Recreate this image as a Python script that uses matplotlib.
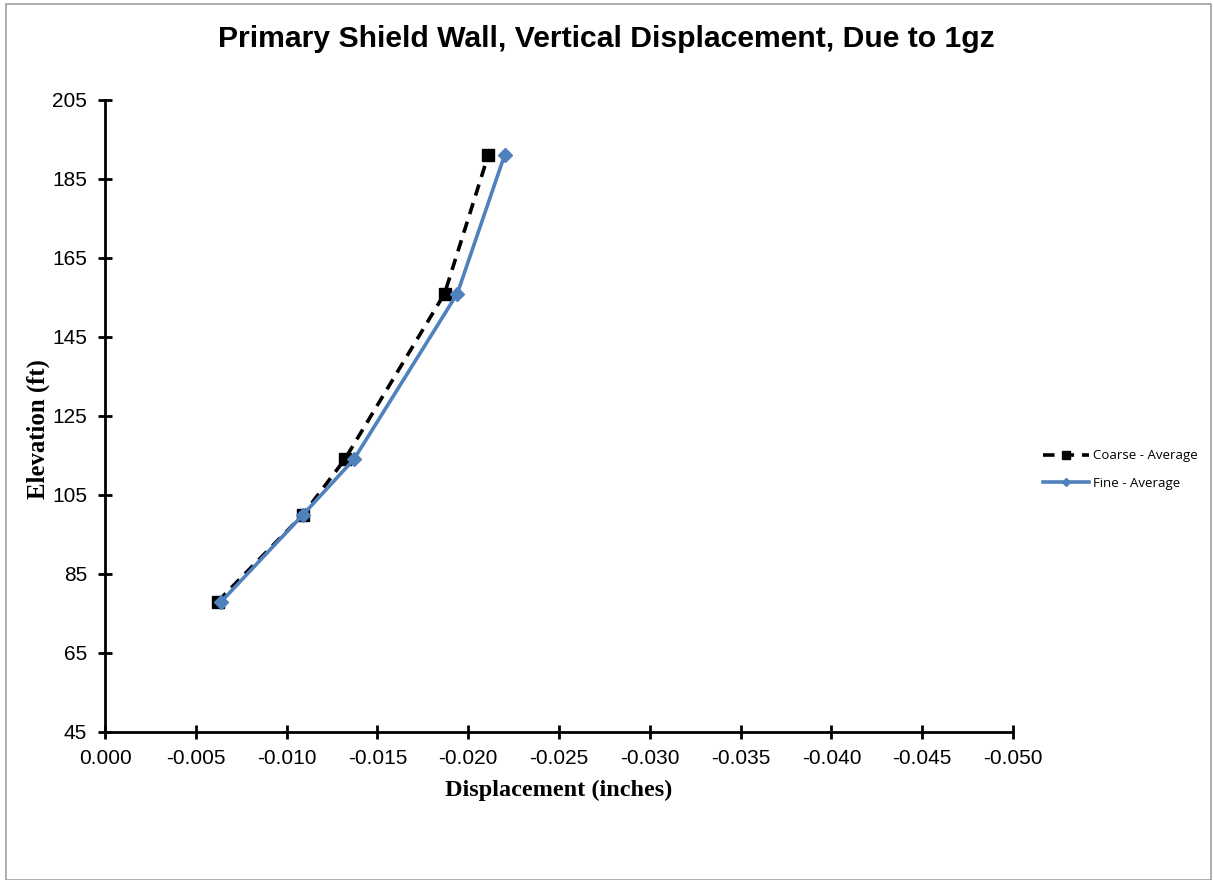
import matplotlib
matplotlib.use("Agg")
import matplotlib.pyplot as plt
from matplotlib.patches import Rectangle

# elevations (ft) and displacements (inches)
elev = [78, 100, 114, 156, 191]
coarse = [-0.0062, -0.0109, -0.0132, -0.0187, -0.0211]
fine = [-0.0064, -0.0109, -0.0137, -0.0194, -0.0220]

xticks = [0.0, -0.005, -0.010, -0.015, -0.020, -0.025, -0.030, -0.035, -0.040, -0.045, -0.050]
yticks = [45, 65, 85, 105, 125, 145, 165, 185, 205]

fig = plt.figure(figsize=(12.13, 8.80), dpi=100)
fig.patches.append(Rectangle((0.005, 0.0), 0.993, 0.995, transform=fig.transFigure,
                             fill=False, edgecolor="#a0a0a0", linewidth=1.2))
ax = fig.add_axes([0.0866, 0.1682, 0.7485, 0.7182])

ax.plot(coarse, elev, color="black", linestyle=(0, (3.2, 2.2)), linewidth=2.6,
        marker="s", markersize=9, label="Coarse - Average")
ax.plot(fine, elev, color="#4f81bd", linestyle="-", linewidth=2.6,
        marker="D", markersize=7, label="Fine - Average")

ax.set_xlim(0.0, -0.050)
ax.set_ylim(45, 205)
ax.set_xticks(xticks)
ax.set_xticklabels([f"{t:.3f}" if t != 0 else "0.000" for t in xticks])
ax.set_yticks(yticks)
ax.spines["top"].set_visible(False)
ax.spines["right"].set_visible(False)
for s in ("left", "bottom"):
    ax.spines[s].set_linewidth(2)
ax.tick_params(direction="inout", length=10, width=2, labelsize=15)
ax.tick_params(axis="x", pad=7)
ax.tick_params(axis="y", pad=8)
for lab in ax.get_xticklabels() + ax.get_yticklabels():
    lab.set_family("Liberation Sans")

ax.set_xlabel("Displacement (inches)", family="Liberation Serif", fontweight="bold",
              fontsize=17.5)
ax.xaxis.set_label_coords(0.5, -0.075)
ax.set_ylabel("Elevation (ft)", family="Liberation Serif", fontweight="bold",
              fontsize=17.8)
ax.yaxis.set_label_coords(-0.061, 0.479)
fig.text(0.5, 0.956, "Primary Shield Wall, Vertical Displacement, Due to 1gz",
         ha="center", va="center", family="Liberation Sans", fontweight="bold",
         fontsize=21.7)

ax.legend(loc="center left", bbox_to_anchor=(1.02, 0.415), frameon=False,
          prop={"family": "Open Sans", "size": 9.5}, handlelength=3.5,
          markerscale=0.6, labelspacing=1.1, handletextpad=0.3)

fig.savefig("out.png", dpi=100)
